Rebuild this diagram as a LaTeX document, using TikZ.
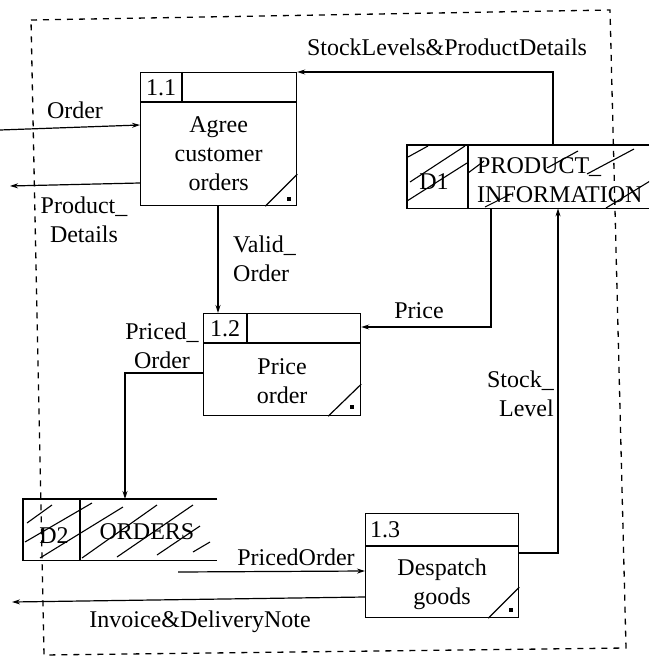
\documentclass[tikz,border=0pt]{standalone}
\usepackage{fontspec}
\setmainfont{Liberation Serif}
\usetikzlibrary{arrows.meta,calc}
\begin{document}
\begin{tikzpicture}[x=1pt,y=-1pt,
  every node/.style={font=\fontsize{24}{29}\selectfont},
  ln/.style={line width=1.2pt},
  arr/.style={ln,-{Stealth[length=8pt,width=5pt]}},
  proc/.style={draw,line width=1.2pt,anchor=north west,inner sep=0pt},
  store/.style={anchor=north west,inner sep=0pt},
  bound/.style={line width=1.3pt,dash pattern=on 6pt off 6pt},
  hatch/.style={line width=1.1pt},
  lbl/.style={inner sep=1pt,align=center}]
\useasboundingbox (0,0) rectangle (649,660);
\fill[white] (0,0) rectangle (649,660);

% boundary
\coordinate (bTL) at (31,20);
\coordinate (bTR) at (610,10);
\coordinate (bBR) at (626,648);
\coordinate (bBL) at (44,655);
\draw[bound] (bTL) -- (bTR) -- (bBR) -- (bBL) -- cycle;

% process 1.1
\node[proc,minimum width=156pt,minimum height=133pt] (p11) at (140,72) {};
\draw[ln] ($(p11.north west)+(0,30)$) -- ($(p11.north east)+(0,30)$);
\draw[ln] ($(p11.north west)+(42,0)$) -- ($(p11.north west)+(42,30)$);
\node[lbl] (p11id) at ($(p11.north west)+(21,16)$) {1.1};
\node[lbl] (p11t) at ($(p11.north)+(0,82)$) {Agree\\customer\\orders};
\draw[ln] ($(p11.south east)+(-32,0)$) -- ($(p11.south east)+(0,-32)$);
\fill ($(p11.south east)+(-10,-9)$) rectangle ++(4,4);

% process 1.2
\node[proc,minimum width=157pt,minimum height=102pt] (p12) at (203,313) {};
\draw[ln] ($(p12.north west)+(0,30)$) -- ($(p12.north east)+(0,30)$);
\draw[ln] ($(p12.north west)+(44,0)$) -- ($(p12.north west)+(44,30)$);
\node[lbl] (p12id) at ($(p12.north west)+(22,16)$) {1.2};
\node[lbl] (p12t) at ($(p12.north)+(0,68)$) {Price\\order};
\draw[ln] ($(p12.south east)+(-33,0)$) -- ($(p12.south east)+(0,-32)$);
\fill ($(p12.south east)+(-11,-11)$) rectangle ++(4,4);

% process 1.3
\node[proc,minimum width=153pt,minimum height=104pt] (p13) at (365,513) {};
\draw[ln] ($(p13.north west)+(0,33)$) -- ($(p13.north east)+(0,33)$);
\node[lbl] (p13id) at ($(p13.north west)+(20,17)$) {1.3};
\node[lbl] (p13t) at ($(p13.north)+(0,71)$) {Despatch\\goods};
\draw[ln] ($(p13.south east)+(-31,0)$) -- ($(p13.south east)+(0,-31)$);
\fill ($(p13.south east)+(-10,-10)$) rectangle ++(4,4);

% store D1
\node[store,minimum width=250pt,minimum height=63pt] (d1) at (407,145) {};
\draw[ln] ($(d1.north west)+(242,0)$) -- (d1.north west) -- (d1.south west) -- ++(242,0);
\draw[ln] ($(d1.north west)+(61,0)$) -- ($(d1.south west)+(61,0)$);
\begin{scope}
\clip (407,145) rectangle (649,208);
\draw[hatch] (408,157) -- (428,146);
\draw[hatch] (410,182) -- (465,146);
\draw[hatch] (407,201) -- (467,163);
\draw[hatch] (468,173) -- (484,161);
\draw[hatch] (547,168) -- (578,151);
\draw[hatch] (587,174) -- (634,149);
\draw[hatch] (485,207) -- (511,194);
\draw[hatch] (606,208) -- (655,178);
\end{scope}
\node[lbl] (d1id) at ($(d1.north west)+(27,37)$) {D1};
\node[lbl,align=left,anchor=west] (d1t) at ($(d1.north west)+(69,35)$) {PRODUCT\_\\INFORMATION};

% store D2
\node[store,minimum width=194pt,minimum height=61pt] (d2) at (23,499) {};
\draw[ln] (d2.north east) -- (d2.north west) -- (d2.south west) -- (d2.south east);
\draw[ln] ($(d2.north west)+(57,0)$) -- ($(d2.south west)+(57,0)$);
\begin{scope}
\clip (23,499) rectangle (217,560);
\draw[hatch] (27,523) -- (52,505);
\draw[hatch] (25,542) -- (92,503);
\draw[hatch] (40,558) -- (123,507);
\draw[hatch] (82,558) -- (157,505);
\draw[hatch] (117,557) -- (193,505);
\draw[hatch] (157,555) -- (200,526);
\draw[hatch] (193,552) -- (210,542);
\end{scope}
\node[lbl] (d2id) at ($(d2.north west)+(31,37)$) {D2};
\node[lbl] (d2t) at ($(d2.north west)+(124,33)$) {ORDERS};

% external ends
\coordinate (ordsrc) at (0,130);
\coordinate (pdsink) at (10,186);
\coordinate (invsink) at (12,602);
\coordinate (posrc) at (178,572);

% flows
\draw[arr] ($(d1.north west)+(146,0)$) |- (p11.north east);
\node[lbl] (lsl) at (447,47) {StockLevels\&ProductDetails};

\draw[arr] (ordsrc) -- ($(p11.north west)+(0,53)$);
\node[lbl] (lord) at (75,110) {Order};

\draw[arr] ($(p11.north west)+(0,111)$) -- (pdsink);
\node[lbl] (lpd) at (84,220) {Product\_\\Details};

\draw[arr] ($(p11.south west)+(78,0)$) coordinate (va) -- (va |- p12.north);
\node[lbl,align=left,anchor=west] (lvo) at (232,259) {Valid\_\\Order};

\draw[arr] ($(d1.south west)+(84,0)$) |- ($(p12.north east)+(0,14)$);
\node[lbl] (lpr) at (419,311) {Price};

\draw[arr] ($(p12.north west)+(0,60)$) -| ($(d2.north west)+(102,0)$);
\node[lbl] (lpo) at (162,346) {Priced\_\\Order};

\draw[arr] (posrc) -- ($(p13.north west)+(0,58)$);
\node[lbl] (lpo2) at (296,557) {PricedOrder};

\draw[arr] ($(p13.north west)+(0,84)$) -- (invsink);
\node[lbl] (linv) at (200,622) {Invoice\&DeliveryNote};

\draw[arr] ($(p13.north east)+(0,40)$) -| ($(d1.south west)+(151,0)$);
\node[lbl,align=right,anchor=east] (lsk) at (555,394) {Stock\_\\Level};
\end{tikzpicture}
\end{document}
